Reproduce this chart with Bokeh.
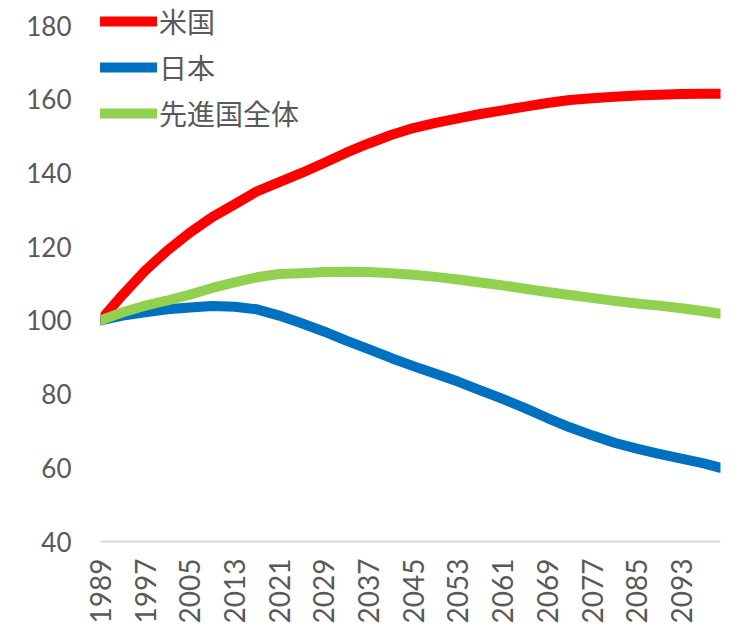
import math
from bokeh.plotting import figure
from bokeh.models import ColumnDataSource, FixedTicker, Legend, LegendItem, Range1d
from bokeh.embed import file_html
from bokeh.resources import INLINE

years = [1989, 1993, 1997, 2001, 2005, 2009, 2013, 2017, 2021, 2025, 2029, 2033,
         2037, 2041, 2045, 2049, 2053, 2057, 2061, 2065, 2069, 2073, 2077, 2081,
         2085, 2089, 2093, 2097, 2100]

usa = [100, 107, 113.5, 119, 123.8, 128, 131.5, 135, 137.5, 140, 142.7, 145.5,
       148, 150.3, 152.2, 153.6, 154.8, 156, 157, 158, 159, 159.8, 160.3, 160.7,
       161, 161.2, 161.4, 161.5, 161.5]

japan = [100, 101.3, 102.2, 103, 103.5, 103.9, 103.7, 103, 101.3, 99.2, 97, 94.5,
         92.2, 89.8, 87.6, 85.5, 83.4, 81, 78.7, 76.2, 73.5, 71, 68.8, 66.8,
         65.2, 63.8, 62.5, 61.2, 60]

developed = [100, 102.2, 104, 105.4, 107, 108.8, 110.3, 111.7, 112.6, 112.8, 113.1, 113.2,
             113.1, 112.8, 112.4, 111.8, 111.1, 110.3, 109.5, 108.6, 107.7, 106.9, 106.1, 105.3,
             104.6, 104, 103.3, 102.5, 101.8]

series_names = ["米国", "日本", "先進国全体"]
series_colors = ["#FF0000", "#0070C0", "#92D050"]

x_ticks = list(range(1989, 2100, 8))
y_ticks = [40, 60, 80, 100, 120, 140, 160, 180]

p = figure(width=730, height=630, output_backend="svg", toolbar_location=None,
           x_range=Range1d(1989, 2100), y_range=Range1d(40, 186.8))
p.min_border_left = 100
p.min_border_right = 10
p.min_border_top = 0
p.min_border_bottom = 89
p.outline_line_color = None
p.xgrid.grid_line_color = None
p.ygrid.grid_line_color = None
p.background_fill_color = "white"
p.border_fill_color = "white"

src = ColumnDataSource(dict(year=years, usa=usa, japan=japan, developed=developed))

renderers = []
for col, color in zip(["usa", "japan", "developed"], series_colors):
    r = p.line("year", col, source=src, line_color=color, line_width=10,
               line_cap="round", line_join="round")
    renderers.append(r)

# axes
p.xaxis.ticker = FixedTicker(ticks=x_ticks)
p.yaxis.ticker = FixedTicker(ticks=y_ticks)
p.xaxis.major_label_orientation = math.pi / 2
p.xaxis.axis_line_color = "#D9D9D9"
p.xaxis.axis_line_width = 2
p.yaxis.axis_line_color = None
for ax in (p.xaxis, p.yaxis):
    ax.major_tick_line_color = None
    ax.minor_tick_line_color = None
    ax.major_tick_in = 0
    ax.major_tick_out = 0
    ax.minor_tick_out = 0
    ax.major_label_text_color = "#595959"
    ax.major_label_text_font = "Lato"
p.yaxis.major_label_text_font_size = "26px"
p.xaxis.major_label_text_font_size = "28px"
p.yaxis.major_label_standoff = 29
p.xaxis.major_label_standoff = 17

items = [LegendItem(label=n, renderers=[r]) for n, r in zip(series_names, renderers)]
legend = Legend(items=items, location=(-3, 408))
legend.padding = 0
legend.margin = 0
legend.border_line_color = None
legend.background_fill_alpha = 0
legend.glyph_width = 60
legend.glyph_height = 30
legend.label_height = 30
legend.label_standoff = 2
legend.spacing = 6
legend.label_text_font = "Noto Sans CJK JP"
legend.label_text_font_size = "28px"
legend.label_text_color = "#595959"
legend.label_text_baseline = "middle"
p.add_layout(legend, "center")

open("out.html", "w").write(file_html(p, INLINE))
